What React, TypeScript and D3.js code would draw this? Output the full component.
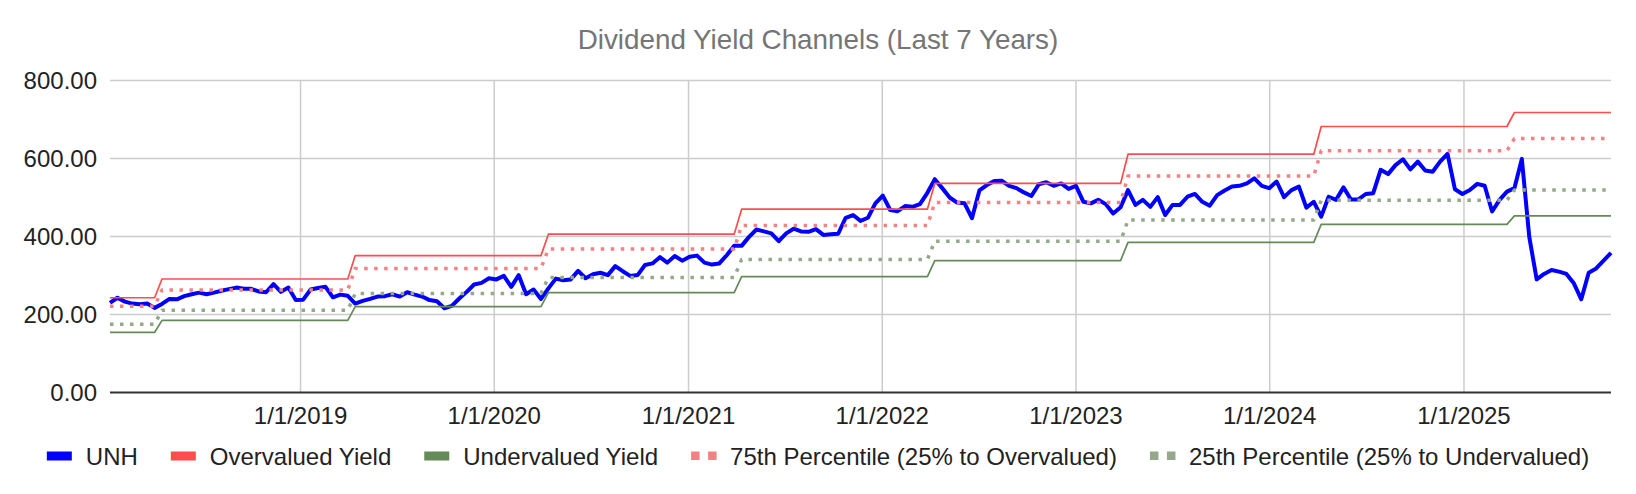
import { useRef, useEffect } from "react";
import * as d3 from "d3";

// UNH dividend yield channel, biweekly readings from the first date on
const startDate = "2018-01-07";
const stepDays = 14;
const unhValues = [
  230, 243, 233, 228, 226, 228, 217, 227, 240, 239, 247, 252, 256, 252, 256, 261, 265, 269, 266, 266,
  259, 257, 278, 258, 269, 237, 238, 264, 268, 271, 244, 251, 248, 228,
  235, 240, 246, 247, 252, 246, 257, 251, 246, 237, 234, 216, 222, 241, 258, 277, 281, 293, 290, 299,
  271, 301, 252, 264, 240, 267, 292, 288, 290, 312, 293,
  303, 307, 301, 324, 311, 299, 301, 327, 331, 347, 333, 350, 338, 348, 351, 333, 328, 331, 352, 376,
  376, 399, 418, 413, 408, 388, 408, 420, 413, 412, 419, 404,
  406, 407, 448, 455, 440, 448, 485, 505, 468, 465, 478, 476, 483, 512, 547, 524, 500, 487, 485, 447,
  518, 532, 542, 543, 530, 524, 513, 504, 534, 539, 530, 536,
  522, 530, 489, 485, 494, 483, 459, 475, 519, 481, 494, 476, 501, 455, 481, 481, 502, 509, 489, 479,
  506, 518, 528, 530, 536, 549, 530, 524, 541, 501, 519,
  528, 474, 489, 451, 502, 494, 526, 495, 495, 509, 511, 571, 560, 583, 598, 572, 592, 569, 566, 592,
  612, 521, 509, 519, 535, 530, 464, 494, 515, 524, 599,
  399, 290, 304, 314, 310, 304, 280, 239, 307, 318, 338, 358,
];

// channel levels, one value per period; each period starts on the date below
const periodStarts = [
  "2018-01-07", "2018-04-15", "2019-04-14", "2020-04-12", "2021-04-11",
  "2022-04-10", "2023-04-09", "2024-04-07", "2025-04-06",
];
const overvalued = [243, 291, 351, 406, 470, 536, 611, 682, 718];
const pct75 = [221, 263, 318, 368, 428, 487, 555, 620, 651];
const pct25 = [175, 211, 254, 295, 341, 388, 442, 493, 519];
const undervalued = [154, 185, 220, 256, 297, 338, 385, 431, 453];

const yTicks = [0, 200, 400, 600, 800];
const xTicks = [
  "2019-01-01", "2020-01-01", "2021-01-01", "2022-01-01",
  "2023-01-01", "2024-01-01", "2025-01-01",
];

const title = "Dividend Yield Channels (Last 7 Years)";
const FONT = "'Liberation Sans', Arial, Helvetica, sans-serif";

const series = [
  { name: "UNH", color: "#0000ff", width: 4, dotted: false },
  { name: "Overvalued Yield", color: "#ff4d4d", width: 1.7, dotted: false },
  { name: "Undervalued Yield", color: "#648a57", width: 1.7, dotted: false },
  { name: "75th Percentile (25% to Overvalued)", color: "#f38383", width: 3.5, dotted: true },
  { name: "25th Percentile (25% to Undervalued)", color: "#93a98a", width: 3.5, dotted: true },
];

const W = 1636;
const H = 494;
const margin = { top: 80.5, right: 25, bottom: 101.5, left: 110 };

export default function App() {
  const svgRef = useRef(null);

  useEffect(() => {
    document.body.style.margin = "0";
    const svg = d3.select(svgRef.current);
    svg.selectAll("*").remove();

    const parse = d3.timeParse("%Y-%m-%d");
    const start = parse(startDate);
    const dates = unhValues.map((_, i) => d3.timeDay.offset(start, i * stepDays));
    const starts = periodStarts.map((s) => parse(s));
    const periodOf = (d) => d3.bisectRight(starts, d) - 1;

    const x = d3
      .scaleTime()
      .domain([dates[0], dates[dates.length - 1]])
      .range([margin.left, W - margin.right]);
    const y = d3
      .scaleLinear()
      .domain([0, 800])
      .range([H - margin.bottom, margin.top]);

    // title
    svg
      .append("text")
      .attr("x", W / 2)
      .attr("y", 49)
      .attr("text-anchor", "middle")
      .attr("font-family", FONT)
      .attr("font-size", 27.8)
      .attr("fill", "#757575")
      .text(title);

    // gridlines
    svg
      .append("g")
      .selectAll("line")
      .data(yTicks.filter((t) => t > 0))
      .join("line")
      .attr("x1", margin.left)
      .attr("x2", W - margin.right)
      .attr("y1", (d) => y(d))
      .attr("y2", (d) => y(d))
      .attr("stroke", "#cccccc")
      .attr("stroke-width", 1.5);

    const xTickDates = xTicks.map((s) => parse(s));
    svg
      .append("g")
      .selectAll("line")
      .data(xTickDates)
      .join("line")
      .attr("x1", (d) => x(d))
      .attr("x2", (d) => x(d))
      .attr("y1", y(800))
      .attr("y2", y(0))
      .attr("stroke", "#cccccc")
      .attr("stroke-width", 1.5);

    // y labels
    svg
      .append("g")
      .selectAll("text")
      .data(yTicks)
      .join("text")
      .attr("x", margin.left - 13)
      .attr("y", (d) => y(d) + 8.5)
      .attr("text-anchor", "end")
      .attr("font-family", FONT)
      .attr("font-size", 24)
      .attr("fill", "#222")
      .text((d) => d3.format(".2f")(d));

    // x labels
    const fmt = d3.timeFormat("%-m/%-d/%Y");
    svg
      .append("g")
      .selectAll("text")
      .data(xTickDates)
      .join("text")
      .attr("x", (d) => x(d))
      .attr("y", 423.5)
      .attr("text-anchor", "middle")
      .attr("font-family", FONT)
      .attr("font-size", 24)
      .attr("fill", "#222")
      .text((d) => fmt(d));

    // series
    const rows = dates.map((d, i) => {
      const p = periodOf(d);
      return {
        date: d,
        values: [unhValues[i], overvalued[p], undervalued[p], pct75[p], pct25[p]],
      };
    });

    const plot = svg.append("g");
    series.forEach((s, k) => {
      const line = d3
        .line()
        // @ts-ignore
        .x((r) => x(r.date))
        // @ts-ignore
        .y((r) => y(r.values[k]));
      plot
        .append("path")
        .datum(rows)
        .attr("d", line)
        .attr("fill", "none")
        .attr("stroke", s.color)
        .attr("stroke-width", s.width)
        .attr("stroke-linejoin", "round")
        .attr("stroke-dasharray", s.dotted ? "3.5 6.5" : null);
    });

    // baseline
    svg
      .append("line")
      .attr("x1", margin.left)
      .attr("x2", W - margin.right)
      .attr("y1", y(0))
      .attr("y2", y(0))
      .attr("stroke", "#333")
      .attr("stroke-width", 2);

    // legend
    const legend = svg.append("g");
    const swatchW = 25;
    const swatchGap = 14;
    const itemGap = 33;
    const legendY = 456;
    const items = series.map((s) => {
      const g = legend.append("g");
      if (s.dotted) {
        g.append("rect").attr("x", 0).attr("y", legendY - 4.5).attr("width", 8.5).attr("height", 8.5).attr("fill", s.color);
        g.append("rect").attr("x", 17).attr("y", legendY - 4.5).attr("width", 8.5).attr("height", 8.5).attr("fill", s.color);
      } else {
        g.append("rect")
          .attr("x", 0)
          .attr("y", legendY - 4.5)
          .attr("width", swatchW)
          .attr("height", 9)
          .attr("fill", s.color);
      }
      const t = g
        .append("text")
        .attr("x", swatchW + swatchGap)
        .attr("y", legendY + 8.5)
        .attr("font-family", FONT)
        .attr("font-size", 24)
        .attr("fill", "#222")
        .text(s.name);
      // @ts-ignore
      const w = t.node().getComputedTextLength();
      return { g, w: swatchW + swatchGap + w };
    });
    const total = d3.sum(items, (d) => d.w) + itemGap * (items.length - 1);
    let cx = W / 2 - total / 2;
    items.forEach((it) => {
      it.g.attr("transform", `translate(${cx},0)`);
      cx += it.w + itemGap;
    });
  }, []);

  return <svg ref={svgRef} width={W} height={H} style={{ display: "block", background: "#fff" }}></svg>;
}
